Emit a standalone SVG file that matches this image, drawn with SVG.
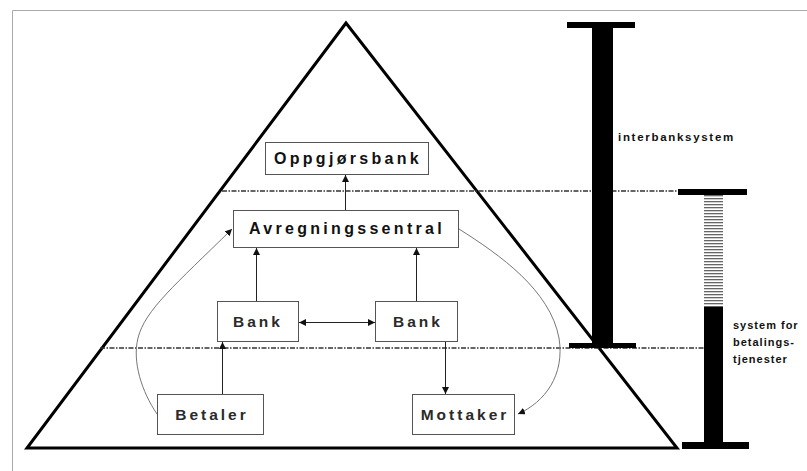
<svg xmlns="http://www.w3.org/2000/svg" width="807" height="471" viewBox="0 0 807 471">
<style>
.box{fill:#fff;stroke:#555;stroke-width:1}
.t{font-family:"Liberation Sans",Arial,sans-serif;fill:#111;text-anchor:middle}
.big{font-size:16px;font-weight:bold;letter-spacing:3.3px}
.mid{font-size:15.5px;font-weight:bold;letter-spacing:3px;fill:#2a2a2a}
.lbl{font-family:"Liberation Sans",Arial,sans-serif;font-size:11.5px;font-weight:bold;fill:#111;letter-spacing:1.7px}
.lbl2{font-family:"Liberation Sans",Arial,sans-serif;font-size:11px;font-weight:bold;fill:#111;letter-spacing:1px}
.arr{stroke:#222;stroke-width:1;fill:none}
.crv{stroke:#777;stroke-width:1;fill:none}
.dd{stroke:#333;stroke-width:1.3;stroke-dasharray:5,1.5,1.5,1.5;fill:none}
</style>
<defs>
<marker id="ah" viewBox="0 0 10 10" refX="10" refY="5" markerWidth="7" markerHeight="7" orient="auto-start-reverse" markerUnits="userSpaceOnUse">
<path d="M0,0 L10,5 L0,10 z" fill="#111"/>
</marker>
<pattern id="hatch" width="4" height="3" patternUnits="userSpaceOnUse">
<rect width="4" height="3" fill="#fff"/>
<rect width="4" height="1.3" fill="#666"/>
</pattern>
</defs>
<rect width="807" height="471" fill="#fff"/>
<path d="M12.5,471 V10.5 H807" fill="none" stroke="#aaa" stroke-width="1"/>

<g id="pyramid">
<polygon points="346,23 27,448 677,448" fill="none" stroke="#000" stroke-width="3" stroke-linejoin="miter"/>
</g>
<g id="levels">
<line class="dd" x1="222" y1="191" x2="678" y2="191"/>
<line class="dd" x1="100" y1="348" x2="704" y2="348"/>
</g>

<g id="interbank-bar">
<rect x="567" y="22" width="68" height="6" fill="#000"/>
<rect x="592" y="25" width="21" height="320" fill="#000"/>
<rect x="569" y="343" width="67" height="5" fill="#000"/>
<text class="lbl" x="618" y="141">interbanksystem</text>
</g>

<g id="payment-bar">
<rect x="678" y="189" width="69" height="6" fill="#000"/>
<rect x="704" y="195" width="19" height="112" fill="url(#hatch)"/>
<rect x="704" y="307" width="19" height="137" fill="#000"/>
<rect x="682" y="442" width="67" height="7" fill="#000"/>
<text class="lbl2" x="733" y="329">system for</text>
<text class="lbl2" x="733" y="346">betalings-</text>
<text class="lbl2" x="733" y="363">tjenester</text>
</g>

<g id="oppgjorsbank">
<rect class="box" x="265.5" y="142.5" width="163" height="32"/>
<text class="t big" x="348" y="164">Oppgjørsbank</text>
</g>
<g id="avregningssentral">
<rect class="box" x="233.5" y="210.5" width="225" height="37"/>
<text class="t big" x="347" y="234">Avregningssentral</text>
</g>
<g id="bank-left">
<rect class="box" x="217.5" y="301.5" width="81" height="40"/>
<text class="t mid" x="258" y="327">Bank</text>
</g>
<g id="bank-right">
<rect class="box" x="375.5" y="301.5" width="82" height="40"/>
<text class="t mid" x="418" y="327">Bank</text>
</g>
<g id="betaler">
<rect class="box" x="157.5" y="394.5" width="106" height="40"/>
<text class="t mid" x="212" y="420">Betaler</text>
</g>
<g id="mottaker">
<rect class="box" x="412.5" y="394.5" width="102" height="40"/>
<text class="t mid" x="465" y="420">Mottaker</text>
</g>

<g id="connectors">
<line class="arr" x1="345.5" y1="210" x2="345.5" y2="175" marker-end="url(#ah)"/>
<line class="arr" x1="256.5" y1="301" x2="256.5" y2="248" marker-end="url(#ah)"/>
<line class="arr" x1="416.5" y1="301" x2="416.5" y2="248" marker-end="url(#ah)"/>
<line class="arr" x1="299" y1="322.5" x2="375" y2="322.5" marker-start="url(#ah)" marker-end="url(#ah)"/>
<line class="arr" x1="222.5" y1="394" x2="222.5" y2="342" marker-end="url(#ah)"/>
<line class="arr" x1="445.5" y1="342" x2="445.5" y2="394" marker-end="url(#ah)"/>
<path class="crv" d="M157,414 C142,392 132,362 138,338 C145,310 175,285 232,229" marker-end="url(#ah)"/>
<path class="crv" d="M459,229 C500,255 550,290 559,338 C565,375 545,402 518,414" marker-end="url(#ah)"/>
</g>
</svg>
